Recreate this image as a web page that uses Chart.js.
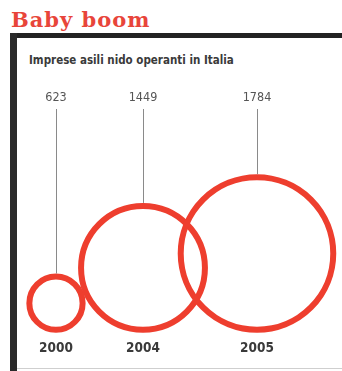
<!DOCTYPE html>
<html>
<head>
<meta charset="utf-8">
<script src="https://cdn.jsdelivr.net/npm/chart.js@4/dist/chart.umd.min.js"></script>
<style>
  html, body { margin: 0; padding: 0; background: #ffffff; }
  #wrap { position: relative; width: 342px; height: 371px; overflow: hidden; background: #fff; }
  #title { position: absolute; left: 11px; top: 5px; font-family: "DejaVu Serif", serif; font-weight: bold;
           font-size: 21px; letter-spacing: 1px; color: #e8453a; line-height: 30px; white-space: nowrap; }
  #topbar { position: absolute; left: 10px; top: 33px; width: 332px; height: 5px; background: #222; }
  #leftbar { position: absolute; left: 10px; top: 33px; width: 7px; height: 338px; background: #2a2a2a; }
  #botline { position: absolute; left: 17px; top: 368px; width: 325px; height: 1px; background: #cfcfcf; }
  #subtitle { position: absolute; left: 29px; top: 52px; font-family: "DejaVu Sans Condensed", sans-serif;
              font-weight: bold; font-size: 11.5px; color: #3a3a3a; line-height: 16px; white-space: nowrap; }
  #c { position: absolute; left: 0; top: 0; }
</style>
</head>
<body>
<div id="wrap">
  <div id="title">Baby boom</div>
  <div id="topbar"></div>
  <div id="leftbar"></div>
  <div id="botline"></div>
  <div id="subtitle">Imprese asili nido operanti in Italia</div>
  <canvas id="c" width="342" height="371"></canvas>
</div>
<script>
// ---- data ----
const years = ["2000", "2004", "2005"];
const values = [623, 1449, 1784];
const valueLabels = ["623", "1449", "1784"];

// ---- layout (horizontal slot of each circle on the x scale) ----
const slots = [0, 1, 2.31];

const red = "#ee3e2e";
const labelFont = "'DejaVu Sans Condensed', 'DejaVu Sans', sans-serif";

const leaderLines = {
  id: "leaderLines",
  afterDatasetsDraw(chart) {
    const ctx = chart.ctx;
    const meta = chart.getDatasetMeta(0);
    ctx.save();
    ctx.strokeStyle = "#8a8a8a";
    ctx.lineWidth = 1;
    meta.data.forEach(el => {
      const r = el.options.radius || 0;
      const topOfCircle = el.y - r - el.options.borderWidth / 2;
      const x = Math.round(el.x) + 0.5;
      ctx.beginPath();
      ctx.moveTo(x, chart.chartArea.top);
      ctx.lineTo(x, topOfCircle);
      ctx.stroke();
    });
    ctx.restore();
  }
};

function setSlotTicks(scale) {
  scale.ticks = slots.map(v => ({ value: v }));
}

const chart = new Chart(document.getElementById("c"), {
  type: "bubble",
  data: {
    datasets: [{
      data: values.map((v, i) => ({ x: slots[i], y: v })),
      backgroundColor: "rgba(0,0,0,0)",
      borderColor: red,
      borderWidth: 6,
      hoverRadius: 0,
      hoverBorderWidth: 6,
      clip: false
    }]
  },
  options: {
    responsive: false,
    animation: false,
    events: [],
    layout: { autoPadding: false, padding: { left: 17, right: 0, top: 86, bottom: 3 } },
    plugins: { legend: { display: false }, tooltip: { enabled: false }, title: { display: false } },
    scales: {
      x: {
        type: "linear",
        position: "bottom",
        min: -0.448,
        max: 3.287,
        afterBuildTicks: setSlotTicks,
        grid: { display: false, drawTicks: false },
        border: { display: false },
        ticks: {
          autoSkip: false,
          maxRotation: 0,
          padding: 11,
          color: "#3a3a3a",
          font: { family: labelFont, size: 13.5, weight: "bold" },
          callback: (v, i) => years[i]
        }
      },
      xTop: {
        type: "linear",
        position: "top",
        min: -0.448,
        max: 3.287,
        afterBuildTicks: setSlotTicks,
        grid: { display: false, drawTicks: false },
        border: { display: false },
        ticks: {
          autoSkip: false,
          maxRotation: 0,
          padding: 4,
          color: "#555555",
          font: { family: labelFont, size: 12.5 },
          callback: (v, i) => valueLabels[i]
        }
      },
      y: {
        display: false,
        min: 0,
        max: Math.max(...values) * 2.895
      }
    }
  },
  plugins: [leaderLines]
});

// radius of each circle = pixel distance of its value on the y scale
const yScale = chart.scales.y;
chart.data.datasets[0].data.forEach((d, i) => {
  d.r = yScale.getPixelForValue(0) - yScale.getPixelForValue(values[i]);
});
chart.update("none");
</script>
</body>
</html>
